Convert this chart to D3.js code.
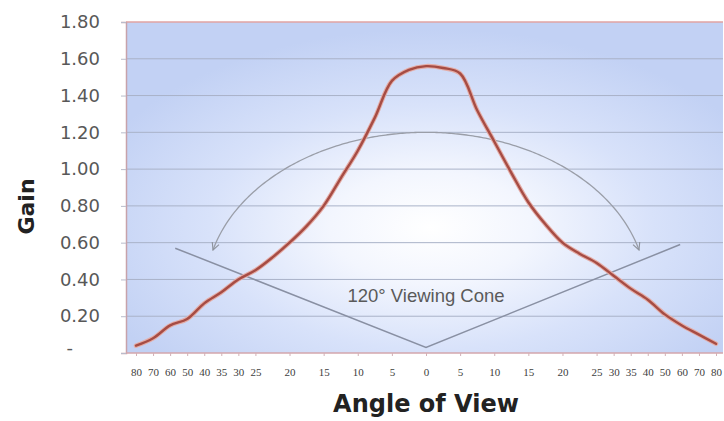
<!DOCTYPE html>
<html>
<head>
<meta charset="utf-8">
<script src="https://cdn.jsdelivr.net/npm/d3@7"></script>
<style>
  html, body { margin: 0; padding: 0; background: #ffffff; }
  svg { display: block; }
</style>
</head>
<body>
<svg id="chart" width="724" height="421"></svg>
<script>
// ---- data ----
const angleLabels = ["80","70","60","50","40","35","30","25","","20","","15","","10","","5","","0","","5","","10","","15","","20","","25","30","35","40","50","60","70","80"];
const gainValues = [0.04,0.08,0.15,0.185,0.27,0.33,0.40,0.45,0.52,0.60,0.69,0.80,0.95,1.10,1.28,1.48,1.54,1.56,1.55,1.52,1.32,1.15,0.98,0.82,0.70,0.60,0.54,0.49,0.42,0.35,0.29,0.21,0.15,0.10,0.05];
const yTicks = [0,0.2,0.4,0.6,0.8,1.0,1.2,1.4,1.6,1.8];
const coneLabel = "120° Viewing Cone";
const coneEnds = [0.57, 0.03, 0.59];   // gain at left end, vertex, right end
const coneSlots = [2.3, 17, 31.9];     // slot positions of cone points
const arcGain = { top: 1.20, end: 0.56 };
const xTitle = "Angle of View";
const yTitle = "Gain";

// ---- layout ----
const svg = d3.select("#chart");
const plot = { left: 126, top: 22, right: 723, bottom: 353 };

const slots = d3.range(angleLabels.length);
const x = d3.scalePoint().domain(slots).range([136, 716]);
const xs = d3.scaleLinear().domain([0, slots.length - 1]).range([136, 716]);
const y = d3.scaleLinear().domain([0, 1.8]).range([plot.bottom, plot.top]);

// background gradient
const defs = svg.append("defs");
const grad = defs.append("radialGradient").attr("id", "bg")
  .attr("cx", "0.51").attr("cy", "0.62").attr("r", "0.6");
[[0, "#ffffff"], [0.28, "#f3f6fe"], [0.62, "#d8e2fa"], [1, "#c2d1f4"]].forEach(([o, c]) =>
  grad.append("stop").attr("offset", o).attr("stop-color", c));

const mk = defs.append("marker").attr("id", "arrow")
  .attr("viewBox", "0 0 10 10").attr("refX", 9).attr("refY", 5)
  .attr("markerWidth", 9).attr("markerHeight", 9).attr("orient", "auto")
  .attr("markerUnits", "userSpaceOnUse");
mk.append("path").attr("d", "M1,1 L9,5 L1,9").attr("fill", "none")
  .attr("stroke", "#8f949e").attr("stroke-width", 1.3);
const mk2 = defs.append("marker").attr("id", "arrowS")
  .attr("viewBox", "0 0 10 10").attr("refX", 9).attr("refY", 5)
  .attr("markerWidth", 9).attr("markerHeight", 9).attr("orient", "auto-start-reverse")
  .attr("markerUnits", "userSpaceOnUse");
mk2.append("path").attr("d", "M1,1 L9,5 L1,9").attr("fill", "none")
  .attr("stroke", "#8f949e").attr("stroke-width", 1.3);

svg.append("rect")
  .attr("x", plot.left).attr("y", plot.top)
  .attr("width", plot.right - plot.left).attr("height", plot.bottom - plot.top)
  .attr("fill", "url(#bg)");

// gridlines
svg.append("g").selectAll("line").data(yTicks.filter(d => d > 0 && d < 1.8)).join("line")
  .attr("x1", plot.left).attr("x2", plot.right)
  .attr("y1", d => y(d)).attr("y2", d => y(d))
  .attr("stroke", "#a9b2c8").attr("stroke-width", 1);

// plot top border
svg.append("line").attr("x1", plot.left).attr("x2", plot.right)
  .attr("y1", plot.top).attr("y2", plot.top)
  .attr("stroke", "#e0a3a3").attr("stroke-width", 1.5);

// y axis
const yAxis = svg.append("g").attr("transform", `translate(${plot.left},0)`)
  .call(d3.axisLeft(y).tickValues(yTicks).tickSize(5).tickPadding(21)
    .tickFormat(d => d === 0 ? "-" : d3.format(".2f")(d)));
yAxis.select(".domain").attr("stroke", "#c7a2aa").attr("stroke-width", 1.5);
yAxis.selectAll(".tick line").attr("stroke", "#b9bccb");
yAxis.selectAll(".tick text")
  .attr("font-family", "DejaVu Sans, Verdana, sans-serif")
  .attr("font-size", 18).attr("fill", "#585858");
yAxis.selectAll(".tick").filter(d => d === 0).select("text").attr("x", -53).attr("dy", "0");

// x axis
const xAxis = svg.append("g").attr("transform", `translate(0,${plot.bottom})`)
  .call(d3.axisBottom(x).tickValues(slots.filter(i => angleLabels[i] !== ""))
    .tickSize(3).tickPadding(12).tickFormat(i => angleLabels[i]));
xAxis.select(".domain").attr("d", `M${plot.left},0H${plot.right}`)
  .attr("stroke", "#d3a6ad").attr("stroke-width", 1.5);
xAxis.selectAll(".tick line").attr("stroke", "#d3b0b6");
xAxis.selectAll(".tick text")
  .attr("font-family", "Liberation Serif, serif")
  .attr("font-size", 11).attr("fill", "#404040");

// viewing cone
const conePts = coneSlots.map((s, i) => [xs(s), y(coneEnds[i])]);
svg.append("path").attr("d", d3.line()(conePts))
  .attr("fill", "none").attr("stroke", "#8990a3").attr("stroke-width", 1.5);

svg.append("text")
  .attr("x", xs(17)).attr("y", y(0.28))
  .attr("text-anchor", "middle")
  .attr("font-family", "Liberation Sans, Arial, sans-serif")
  .attr("font-size", 18.5).attr("fill", "#5a5a5a")
  .text(coneLabel);

// 120° arc (elliptical annotation)
const cx = xs(17);
const cyArc = y(arcGain.end) + 40;
const ry = cyArc - y(arcGain.top);
const yEnd = y(arcGain.end);
const rx = 213 / Math.sqrt(1 - Math.pow((cyArc - yEnd) / ry, 2));
const arcPts = d3.range(-1, 1.0001, 0.01).map(t => {
  const dx = t * 213;
  const yy = cyArc - ry * Math.sqrt(Math.max(0, 1 - (dx * dx) / (rx * rx)));
  return [cx + dx, yy];
});
svg.append("path").attr("d", d3.line()(arcPts))
  .attr("fill", "none").attr("stroke", "#9a9ea8").attr("stroke-width", 1.3)
  .attr("marker-start", "url(#arrowS)").attr("marker-end", "url(#arrow)");

// gain curve
const line = d3.line().x((d, i) => x(i)).y(d => y(d)).curve(d3.curveCatmullRom.alpha(0.5));
svg.append("path").datum(gainValues).attr("d", line)
  .attr("fill", "none").attr("stroke", "#e4aca6").attr("stroke-width", 4.5)
  .attr("stroke-linejoin", "round").attr("stroke-linecap", "round");
svg.append("path").datum(gainValues).attr("d", line)
  .attr("fill", "none").attr("stroke", "#a64c44").attr("stroke-width", 2.4)
  .attr("stroke-linejoin", "round").attr("stroke-linecap", "round");

// titles
svg.append("text")
  .attr("transform", `translate(34,${(plot.top + plot.bottom) / 2 + 19}) rotate(-90)`)
  .attr("text-anchor", "middle")
  .attr("font-family", "DejaVu Sans, Verdana, sans-serif")
  .attr("font-weight", "bold").attr("font-size", 22).attr("fill", "#222")
  .text(yTitle);

svg.append("text")
  .attr("x", xs(17)).attr("y", 412)
  .attr("text-anchor", "middle")
  .attr("font-family", "DejaVu Sans, Verdana, sans-serif")
  .attr("font-weight", "bold").attr("font-size", 24).attr("fill", "#222")
  .text(xTitle);
</script>
</body>
</html>
